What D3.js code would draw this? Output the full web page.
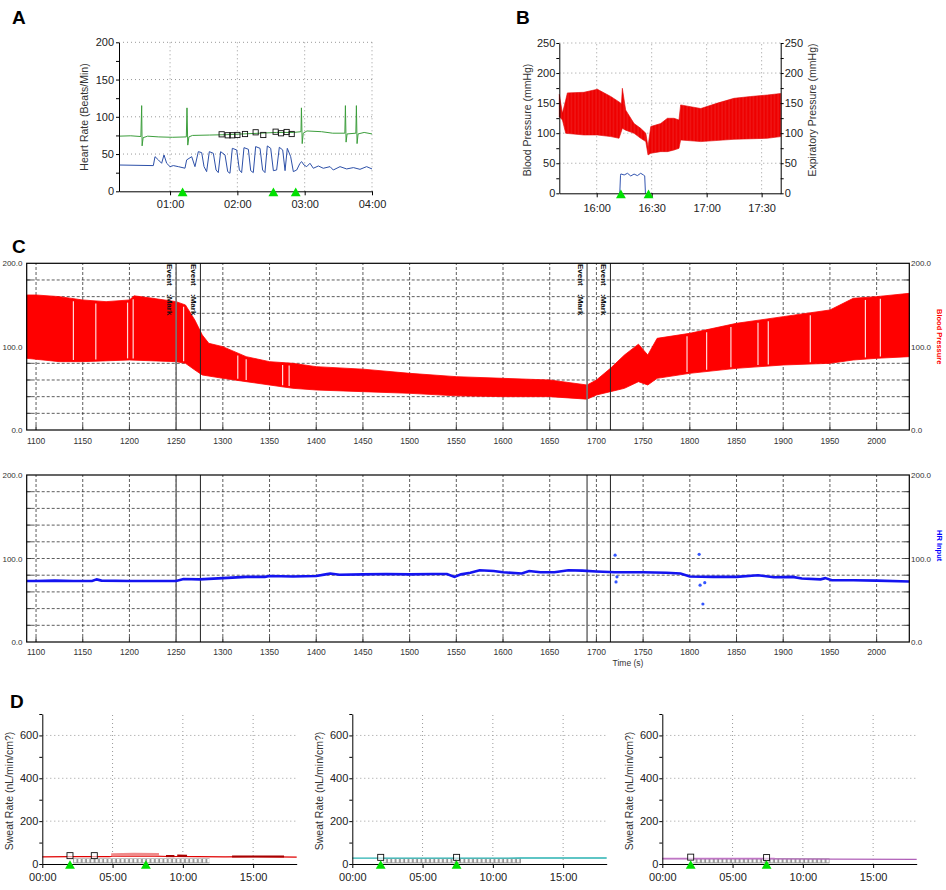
<!DOCTYPE html>
<html><head><meta charset="utf-8">
<script src="https://cdn.jsdelivr.net/npm/d3@7"></script>
<style>body{margin:0;background:#fff}svg{display:block}</style>
</head><body><svg id="chart" width="946" height="890"></svg>
<script>
// ================= DATA =================
// Panel A (time in seconds, heart rate in beats/min)
const aTimeTicks = [60, 120, 180, 240];
const aHrTicks = [0, 50, 100, 150, 200];
const aGreen = [[14.5,74],[25,74.5],[34,73.5],[34.7,115],[35.1,61],[36,72],[40,74],[50,73],[62,72.5],[74.5,73],[75.1,112],[75.8,62],[76.8,73],[80,75],[95,75.5],[110,76],[125,77],[140,78],[155,79],[170,79],[176.7,80],[177.1,112],[177.8,64],[178.7,78],[182,81],[195,80],[205,78],[215.8,78],[216.3,115],[216.9,66],[217.8,77],[225.6,78],[226.1,115],[226.7,64],[227.6,77],[233,79],[240,77]];
const aBlue = [[14.5,35.3],[45.1,34.5],[46.6,46.5],[49.6,42.1],[52.5,37.6],[54.6,48.8],[57.0,37.6],[60.0,33.1],[62.9,34.5],[67.4,33.1],[73.3,31],[74.8,42.1],[79.3,46.5],[82.2,33.1],[85.2,53.2],[88.2,51.9],[90.3,33.1],[92.6,26.4],[95.0,53.2],[98.6,51],[101.0,28.6],[103.0,25.1],[105.1,53.2],[109.0,48.8],[111.4,26.4],[113.4,24.2],[115.5,57.7],[119.4,55.5],[121.8,28.6],[123.8,25.1],[125.9,58.6],[129.8,56.4],[131.9,27.7],[134.2,25.1],[136.3,60.0],[140.2,57.7],[142.5,28.6],[144.6,25.1],[146.7,60.9],[149.7,57.7],[152.1,27.7],[155.0,28.6],[157.4,59.1],[160.4,55.5],[162.5,27.7],[164.5,57.7],[167.5,46.5],[169.9,26.4],[172.9,28.6],[175.8,37.6],[177.3,39.8],[179.4,35.3],[181.8,33.1],[184.7,37.6],[187.7,30.9],[192.2,34],[196.6,30.9],[202.6,33.1],[205.5,28.6],[211.5,33.1],[217.4,30],[223.4,31.8],[229.3,29.5],[235.2,33.1],[240,30]];
const aSquares = [[106.0,76.5],[111.4,75.2],[115.5,75.2],[120.0,75.6],[126.8,76.9],[136.3,79.2],[143.1,75.6],[154.1,80],[158.9,77.9],[163.9,79.6],[168.4,76.9]];
const aMarks = [71.2, 152.1, 172.0];

// Panel B (time in minutes of day, pressure mmHg)
const bTimeTicks = [960, 990, 1020, 1050];
const bPressTicks = [0, 50, 100, 150, 200, 250];
const bUpper = [[939.6,164.6],[941.3,133],[943.1,155],[944,167],[953,168],[960.4,173],[967.7,161],[972.2,152],[973.5,149],[974.0,174.7],[975.8,138.6],[980.4,116],[984,108],[986.8,100],[988,77.6],[989.5,111],[994.9,116],[998.6,124.8],[1002.2,124.8],[1004.9,122],[1005.8,147],[1016.8,141],[1025.9,150],[1034.9,158],[1044,161],[1053.1,163.5],[1060.4,166]];
const bLower = [[939.6,127.5],[941.3,122],[943.1,99.8],[953,97],[960.4,97],[967.7,94.3],[972.2,91.5],[974,108],[975.8,105],[980.4,99.8],[984,91.5],[986.8,86],[988,63.8],[989.5,66.5],[994.9,69.3],[998.6,69.3],[1002.2,72],[1004.9,74.8],[1005.8,88.7],[1016.8,86],[1034.9,89.8],[1053.1,91.5],[1060.4,94.3]];
const bExp = [[972.6,0],[973.0,30],[973.2,32.2],[975,30.5],[976.8,33.3],[978.6,28.8],[980.4,32],[982.2,29.4],[984,33.3],[985.5,30.5],[986.2,29],[986.6,0]];
const bMarks = [973.2, 988.3];

// Panel C (time in s)
const cTimeTicks = [1100,1150,1200,1250,1300,1350,1400,1450,1500,1550,1600,1650,1700,1750,1800,1850,1900,1950,2000];
const cValueLabels = [0, 100, 200];
const cGridValues = [20,40,60,80,100,120,140,160,180];
const cUpper = [[1090,162],[1100,162],[1125,160],[1150,156],[1175,154],[1200,156],[1205,161],[1225,158],[1250,154],[1260,150],[1270,132],[1278,114],[1285,104],[1300,100],[1325,88],[1350,82],[1375,80],[1400,76],[1450,73],[1500,68],[1550,64],[1600,62],[1650,60],[1690,54],[1700,60],[1715,74],[1730,90],[1745,103],[1755,90],[1765,110],[1800,116],[1850,128],[1900,136],[1950,144],[1975,158],[2000,160],[2035,164]];
const cLower = [[1090,86],[1125,82],[1150,82],[1200,84],[1250,82],[1260,80],[1270,72],[1278,66],[1300,62],[1325,58],[1350,54],[1375,50],[1400,48],[1450,46],[1500,44],[1550,41],[1600,40],[1650,40],[1690,37],[1700,42],[1715,46],[1730,50],[1745,58],[1755,54],[1765,62],[1800,68],[1850,74],[1900,78],[1950,80],[1975,84],[2000,86],[2035,88]];
const cGaps = [1140,1164,1198,1204,1258,1316,1325,1364,1371,1797,1818,1844,1873,1884,1929,1988,2004];
const cEvents = [1250, 1276, 1690, 1715];
const cHr = [[1090,73],[1100,73],[1120,73.5],[1140,73],[1160,73],[1165,75],[1170,73.5],[1200,73],[1230,73],[1250,73],[1258,75.5],[1275,75],[1300,76.5],[1325,78],[1345,78],[1350,79],[1375,78.5],[1400,79],[1410,81],[1415,82],[1425,80.5],[1450,81],[1475,81.5],[1500,81],[1525,81.5],[1540,81.5],[1548,78],[1555,81],[1565,83],[1575,86],[1590,85],[1600,83.5],[1620,82],[1628,85],[1640,83.5],[1655,83.5],[1670,86],[1685,85.5],[1700,84.5],[1720,83.5],[1750,83.5],[1775,83],[1790,82],[1800,78.5],[1825,78],[1850,78],[1873,80],[1890,77.5],[1910,78],[1920,76],[1940,75],[1945,76.5],[1952,74],[1975,74],[2000,73.5],[2035,72.5]];
const cHrOutliers = [[1720,104],[1721,72],[1722,78],[1810,105],[1811,68],[1816,71],[1814,45.5]];

// Panel D (time in minutes, sweat rate nL/min/cm2)
const dTimeTicks = [0, 5, 10, 15];
const dRateTicks = [0, 200, 400, 600];
const d1Red = [[0,33],[2,34],[4.8,34],[5,37],[8,37],[9,35],[11,34],[13,33],[15,34],[18.1,32]];
const d1RedUpper = [[4.9,43],[6.5,45],[8.3,44]];
const d1RedDark = [[[8.8,37],[9.4,37]],[[9.6,39],[10.3,38]],[[13.5,35],[17.2,35]]];
const d2Cyan = [[0,27],[4,27],[8,27],[12,28],[18.1,28]];
const d3Purple = [[0,24],[6,24],[12,23],[18.1,22]];
const d3Pink = [[0,27],[8,27]];
const dSquares = [[[1.97,39],[3.70,39]],[[2.02,31],[7.42,31]],[[2.02,32],[7.42,30]]];
const dMarks = [[1.97,7.37],[2.02,7.42],[2.02,7.42]];
const dSampleSpan = [[2.2,11.9],[2.2,12.0],[2.2,11.9]];
const dSampleLevel = [12, 12, 12];

// ================= DRAWING =================
const FONT = "'Liberation Sans', Arial, Helvetica, sans-serif";
const svg = d3.select("#chart").attr("font-family", FONT);
svg.append("rect").attr("width",946).attr("height",890).attr("fill","#fff");
const defs = svg.append("defs");
const streak = defs.append("pattern").attr("id","streak").attr("patternUnits","userSpaceOnUse").attr("width",3.5).attr("height",10);
streak.append("line").attr("x1",1).attr("x2",1).attr("y1",0).attr("y2",10).attr("stroke","#fff").attr("stroke-opacity",0.22).attr("stroke-width",0.6);
const samp = defs.append("pattern").attr("id","samp").attr("patternUnits","userSpaceOnUse").attr("width",4.3).attr("height",6);
samp.append("rect").attr("x",0.5).attr("y",0.5).attr("width",3.2).attr("height",4.4).attr("fill","#fff").attr("stroke","#8a8a8a").attr("stroke-width",0.9);

const pad2 = n => String(Math.floor(n)).padStart(2,"0");
const fmtMS = s => pad2(s/60) + ":" + pad2(s%60);
const fmtHM = m => pad2(m/60) + ":" + pad2(m%60);
const fmtM = m => pad2(m) + ":00";

function styleAxis(g, size){
  g.attr("font-family", FONT).attr("font-size", size);
  g.selectAll("text").attr("fill","#222");
  g.selectAll("line").attr("stroke","#000");
  g.select(".domain").attr("stroke","#000");
}
function panelLabel(t, x, y){
  svg.append("text").attr("x",x).attr("y",y).attr("font-size",19).attr("font-weight","bold").attr("fill","#000").text(t);
}
function yLabel(t, x, y, rot, size, color){
  svg.append("text").attr("transform",`translate(${x},${y}) rotate(${rot})`).attr("text-anchor","middle")
    .attr("font-size",size).attr("fill",color||"#333").text(t);
}
function dotted(sel){ return sel.attr("stroke","#999").attr("stroke-dasharray","1,3").attr("stroke-width",1); }
const tri = d3.symbol().type(d3.symbolTriangle).size(42);

// ---------- Panel A ----------
{
  const x = d3.scaleLinear([14.5,240],[119,372]);
  const y = d3.scaleLinear([0,200],[191.3,42.3]);
  const g = svg.append("g");
  dotted(g.selectAll(".gx").data(aTimeTicks).join("line").attr("x1",d=>x(d)).attr("x2",d=>x(d)).attr("y1",y(0)).attr("y2",y(200)));
  dotted(g.selectAll(".gy").data(aHrTicks.filter(d=>d>0)).join("line").attr("x1",x(14.5)).attr("x2",x(240)).attr("y1",d=>y(d)).attr("y2",d=>y(d)));
  const line = d3.line().x(d=>x(d[0])).y(d=>y(d[1]));
  g.append("path").attr("d",line(aBlue)).attr("fill","none").attr("stroke","#2d50a8").attr("stroke-width",1);
  g.append("path").attr("d",line(aGreen)).attr("fill","none").attr("stroke","#3c9e3c").attr("stroke-width",1);
  g.selectAll(".sq").data(aSquares).join("rect").attr("x",d=>x(d[0])-2.6).attr("y",d=>y(d[1])-2.6).attr("width",5.2).attr("height",5.2)
    .attr("fill","none").attr("stroke","#111").attr("stroke-width",0.9);
  const ay = g.append("g").attr("transform",`translate(${x(14.5)},0)`)
    .call(d3.axisLeft(y).tickValues(d3.range(0,201,25)).tickSize(3).tickSizeOuter(0).tickPadding(2).tickFormat(d=>d%50===0?d:""));
  styleAxis(ay, 11);
  const ax = g.append("g").attr("transform",`translate(0,${y(0)})`)
    .call(d3.axisBottom(x).tickValues(aTimeTicks).tickSize(4).tickSizeOuter(0).tickPadding(5).tickFormat(fmtMS));
  styleAxis(ax, 11);
  g.selectAll(".tri").data(aMarks).join("path").attr("d",tri).attr("transform",d=>`translate(${x(d)},${y(0)+2})`).attr("fill","#00e000");
  yLabel("Heart Rate (Beats/Min)", 88, 117, -90, 10.5);
  panelLabel("A", 12, 24);
}

// ---------- Panel B ----------
{
  const x = d3.scaleLinear([939.6,1060.4],[559.3,780.7]);
  const y = d3.scaleLinear([0,250],[193.3,43]);
  const g = svg.append("g");
  dotted(g.selectAll(".gx").data(bTimeTicks).join("line").attr("x1",d=>x(d)).attr("x2",d=>x(d)).attr("y1",y(0)).attr("y2",y(250)));
  dotted(g.selectAll(".gy").data(bPressTicks.filter(d=>d>0)).join("line").attr("x1",x(939.6)).attr("x2",x(1060.4)).attr("y1",d=>y(d)).attr("y2",d=>y(d)));
  const line = d3.line().x(d=>x(d[0])).y(d=>y(d[1]));
  const poly = line(bUpper.concat(bLower.slice().reverse())) + "Z";
  g.append("path").attr("d",poly).attr("fill","#ee0000").attr("stroke","#e00000").attr("stroke-width",0.6);
  g.append("path").attr("d",poly).attr("fill","url(#streak)");
  g.append("path").attr("d",line(bExp)).attr("fill","none").attr("stroke","#3355b0").attr("stroke-width",1);
  const ayl = g.append("g").attr("transform",`translate(${x(939.6)},0)`)
    .call(d3.axisLeft(y).tickValues(d3.range(0,251,25)).tickSize(3).tickSizeOuter(0).tickPadding(1).tickFormat(d=>d%50===0?d:""));
  styleAxis(ayl, 11);
  const ayr = g.append("g").attr("transform",`translate(${x(1060.4)},0)`)
    .call(d3.axisRight(y).tickValues(d3.range(0,251,25)).tickSize(3).tickSizeOuter(0).tickPadding(1).tickFormat(d=>d%50===0?d:""));
  styleAxis(ayr, 11);
  const ax = g.append("g").attr("transform",`translate(0,${y(0)})`)
    .call(d3.axisBottom(x).tickValues(bTimeTicks).tickSize(4).tickSizeOuter(0).tickPadding(7).tickFormat(fmtHM));
  styleAxis(ax, 11);
  g.selectAll(".tri").data(bMarks).join("path").attr("d",tri).attr("transform",d=>`translate(${x(d)},${y(0)+2})`).attr("fill","#00e000");
  yLabel("Blood Pressure (mmHg)", 531, 120, -90, 10.5);
  yLabel("Expiratory Pressure (mmHg)", 816, 110, -90, 10.5);
  panelLabel("B", 516, 24);
}

// ---------- Panel C ----------
function cFrame(top, bottom){
  const x = d3.scaleLinear([1090,2035],[26.7,909.3]);
  const y = d3.scaleLinear([0,200],[bottom,top]);
  const g = svg.append("g");
  g.selectAll(".gy").data(cGridValues).join("line").attr("x1",x(1090)).attr("x2",x(2035)).attr("y1",d=>y(d)).attr("y2",d=>y(d))
    .attr("stroke","#333").attr("stroke-width",0.8).attr("stroke-dasharray","3,2");
  g.selectAll(".gx").data(cTimeTicks).join("line").attr("x1",d=>x(d)).attr("x2",d=>x(d)).attr("y1",y(0)).attr("y2",y(200))
    .attr("stroke","#333").attr("stroke-width",0.8).attr("stroke-dasharray","3,2");
  g.selectAll(".tl").data(cGridValues).join("line").attr("x1",x(1090)).attr("x2",x(1090)+5).attr("y1",d=>y(d)).attr("y2",d=>y(d)).attr("stroke","#444");
  g.selectAll(".tr").data(cGridValues).join("line").attr("x1",x(2035)-5).attr("x2",x(2035)).attr("y1",d=>y(d)).attr("y2",d=>y(d)).attr("stroke","#444");
  g.selectAll(".tb").data(cTimeTicks).join("line").attr("x1",d=>x(d)).attr("x2",d=>x(d)).attr("y1",y(0)).attr("y2",y(0)-5).attr("stroke","#444");
  return {x, y, g};
}
{
  const {x, y, g} = cFrame(263.3, 430);
  const line = d3.line().x(d=>x(d[0])).y(d=>y(d[1]));
  g.append("path").attr("d", line(cUpper.concat(cLower.slice().reverse()))+"Z").attr("fill","#ff0000").attr("stroke","#ff0000").attr("stroke-width",0.8);
  const upI = d3.scaleLinear(cUpper.map(d=>d[0]), cUpper.map(d=>d[1]));
  const loI = d3.scaleLinear(cLower.map(d=>d[0]), cLower.map(d=>d[1]));
  g.selectAll(".gap").data(cGaps).join("line").attr("x1",d=>x(d)).attr("x2",d=>x(d))
    .attr("y1",d=>y(upI(d)-3)).attr("y2",d=>y(loI(d)+2)).attr("stroke","#fff").attr("stroke-width",1.2).attr("stroke-opacity",0.85);
  g.selectAll(".ev").data(cEvents).join("line").attr("x1",d=>x(d)).attr("x2",d=>x(d)).attr("y1",y(0)).attr("y2",y(200))
    .attr("stroke",(d,i)=>i%2===0?"#777":"#222").attr("stroke-width",(d,i)=>i%2===0?1.6:1);
  cEvents.forEach(d=>{
    [["Event",264],[":Mark",294]].forEach(([t,yy])=>{
      g.append("text").attr("transform",`translate(${x(d)-9},${yy}) rotate(90)`).attr("font-size",8).attr("font-weight","bold").attr("fill","#111").text(t);
    });
  });
  g.append("rect").attr("x",x(1090)).attr("y",y(200)).attr("width",x(2035)-x(1090)).attr("height",y(0)-y(200)).attr("fill","none").attr("stroke","#000").attr("stroke-width",1.2);
  g.selectAll(".tx").data(cTimeTicks).join("text").attr("x",d=>x(d)).attr("y",443.5).attr("text-anchor","middle").attr("font-size",8.5).attr("fill","#333").text(d=>d);
  g.selectAll(".yl").data(cValueLabels).join("text").attr("x",22.5).attr("y",d=>y(d)+3).attr("text-anchor","end").attr("font-size",8).attr("fill","#333").text(d=>d.toFixed(1));
  g.selectAll(".yr").data(cValueLabels).join("text").attr("x",911).attr("y",d=>y(d)+3).attr("font-size",8).attr("fill","#333").text(d=>d.toFixed(1));
  g.append("text").attr("transform","translate(937,309) rotate(90)").attr("font-size",7.5).attr("font-weight","bold").attr("fill","#ff0000").text("Blood Pressure");
}
{
  const {x, y, g} = cFrame(475, 642);
  g.selectAll(".ev").data(cEvents).join("line").attr("x1",d=>x(d)).attr("x2",d=>x(d)).attr("y1",y(0)).attr("y2",y(200))
    .attr("stroke",(d,i)=>i%2===0?"#777":"#222").attr("stroke-width",(d,i)=>i%2===0?1.6:1);
  const line = d3.line().x(d=>x(d[0])).y(d=>y(d[1]));
  g.append("path").attr("d",line(cHr)).attr("fill","none").attr("stroke","#1414f0").attr("stroke-width",2.6);
  g.selectAll(".out").data(cHrOutliers).join("circle").attr("cx",d=>x(d[0])).attr("cy",d=>y(d[1])).attr("r",1.6).attr("fill","#3355ff");
  g.append("rect").attr("x",x(1090)).attr("y",y(200)).attr("width",x(2035)-x(1090)).attr("height",y(0)-y(200)).attr("fill","none").attr("stroke","#000").attr("stroke-width",1.2);
  g.selectAll(".tx").data(cTimeTicks).join("text").attr("x",d=>x(d)).attr("y",655).attr("text-anchor","middle").attr("font-size",8.5).attr("fill","#333").text(d=>d);
  g.append("text").attr("x",628).attr("y",665.5).attr("text-anchor","middle").attr("font-size",8.5).attr("fill","#333").text("Time (s)");
  g.selectAll(".yl").data(cValueLabels).join("text").attr("x",22.5).attr("y",d=>y(d)+3).attr("text-anchor","end").attr("font-size",8).attr("fill","#333").text(d=>d.toFixed(1));
  g.selectAll(".yr").data(cValueLabels).join("text").attr("x",911).attr("y",d=>y(d)+3).attr("font-size",8).attr("fill","#333").text(d=>d.toFixed(1));
  g.append("text").attr("transform","translate(937,530) rotate(90)").attr("font-size",7.5).attr("font-weight","bold").attr("fill","#0000ff").text("HR Input");
}
panelLabel("C", 12, 253);

// ---------- Panel D ----------
const dSeries = [
  [{d:d1Red,c:"#e00000",w:1.2},{d:d1RedUpper,c:"#f08a8a",w:3}],
  [{d:d2Cyan,c:"#2ab2b2",w:1.3}],
  [{d:d3Pink,c:"#e8b8e8",w:1.5},{d:d3Purple,c:"#b060b8",w:1.2}]
];
dSeries.forEach((series,i)=>{
  const off = i*310;
  const x = d3.scaleLinear([0,18.1],[42.3+off,296.7+off]);
  const y = d3.scaleLinear([0,700],[864,714]);
  const g = svg.append("g");
  dotted(g.selectAll(".gx").data(dTimeTicks.filter(d=>d>0)).join("line").attr("x1",d=>x(d)).attr("x2",d=>x(d)).attr("y1",y(0)).attr("y2",y(700)));
  dotted(g.selectAll(".gy").data(dRateTicks.filter(d=>d>0)).join("line").attr("x1",x(0)).attr("x2",x(18.1)).attr("y1",d=>y(d)).attr("y2",d=>y(d)));
  const line = d3.line().x(d=>x(d[0])).y(d=>y(d[1]));
  const sp = dSampleSpan[i];
  g.append("rect").attr("x",x(sp[0])).attr("y",y(dSampleLevel[i])-3).attr("width",x(sp[1])-x(sp[0])).attr("height",5.5).attr("fill","url(#samp)");
  series.forEach(s=>g.append("path").attr("d",line(s.d)).attr("fill","none").attr("stroke",s.c).attr("stroke-width",s.w));
  if(i===0) d1RedDark.forEach(seg=>g.append("path").attr("d",line(seg)).attr("fill","none").attr("stroke","#a80000").attr("stroke-width",2.2));
  g.selectAll(".sq").data(dSquares[i]).join("rect").attr("x",d=>x(d[0])-3).attr("y",d=>y(d[1])-3).attr("width",6).attr("height",6)
    .attr("fill","#fff").attr("fill-opacity",0.6).attr("stroke","#111").attr("stroke-width",0.9);
  const ay = g.append("g").attr("transform",`translate(${x(0)},0)`)
    .call(d3.axisLeft(y).tickValues(d3.range(0,701,100)).tickSize(3).tickSizeOuter(0).tickPadding(1).tickFormat(d=>d%200===0?d:""));
  styleAxis(ay, 11);
  const ax = g.append("g").attr("transform",`translate(0,${y(0)})`)
    .call(d3.axisBottom(x).tickValues(dTimeTicks).tickSize(4).tickSizeOuter(0).tickPadding(5).tickFormat(fmtM));
  styleAxis(ax, 11);
  g.selectAll(".tri").data(dMarks[i]).join("path").attr("d",tri).attr("transform",d=>`translate(${x(d)},${y(0)+2})`).attr("fill","#00e000");
  yLabel("Sweat Rate (nL/min/cm?)", 12.5+off, 791, -90, 10.5);
});
panelLabel("D", 10, 708);
</script></body></html>
